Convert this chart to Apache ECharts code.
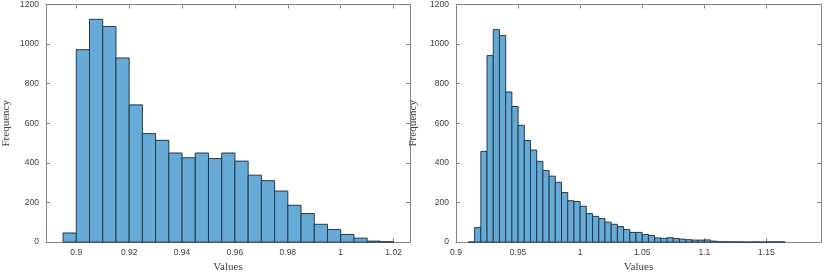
<!DOCTYPE html>
<html>
<head>
<meta charset="utf-8">
<script src="https://cdn.jsdelivr.net/npm/echarts@6/dist/echarts.min.js"></script>
<style>html,body{margin:0;padding:0;background:#fff}#c{width:830px;height:278px}</style>
</head>
<body>
<div id="c"></div>
<script>
// Left histogram: bin left edges and counts (bin width 0.005)
const leftBinStarts = [0.895,0.900,0.905,0.910,0.915,0.920,0.925,0.930,0.935,0.940,0.945,0.950,0.955,0.960,0.965,0.970,0.975,0.980,0.985,0.990,0.995,1.000,1.005,1.010,1.015];
const leftCounts    = [46,972,1125,1089,930,693,548,514,450,426,450,422,450,409,338,310,258,186,144,90,64,39,20,5,2];
const leftBinWidth = 0.005;
const leftXTicks = [0.9,0.92,0.94,0.96,0.98,1,1.02];

// Right histogram
const rightBinStarts = [0.910,0.915,0.920,0.925,0.930,0.935,0.940,0.945,0.950,0.955,0.960,0.965,0.970,0.975,0.980,0.985,0.990,0.995,1.000,1.005,1.010,1.015,1.020,1.025,1.030,1.035,1.040,1.045,1.050,1.055,1.060,1.065,1.070,1.075,1.080,1.085,1.090,1.095,1.100,1.105,1.110,1.115,1.120,1.125,1.130,1.135,1.140,1.145,1.150,1.155,1.160];
const rightCounts    = [1,73,458,942,1073,1043,758,685,590,513,465,408,362,333,302,250,209,205,181,144,130,119,101,90,78,64,49,49,38,34,21,19,22,18,15,12,10,10,11,5,2,1,1,1,0,0,1,0,1,1,1];
const rightBinWidth = 0.005;
const rightXTicks = [0.9,0.95,1,1.05,1.1,1.15];

const yTicks = [0,200,400,600,800,1000,1200];

const axisColor = '#858585';
const labelColor = '#404040';
const fillColor = '#66aad7';
const edgeColor = '#26394a';

function toData(starts, counts, w){
  return starts.map((s,i)=>[s, s + w, counts[i]]);
}

function renderBar(params, api){
  const x0 = api.value(0), x1 = api.value(1), y = api.value(2);
  const p0 = api.coord([x0, y]);
  const p1 = api.coord([x1, 0]);
  return {
    type: 'rect',
    shape: {x: p0[0], y: p0[1], width: p1[0]-p0[0], height: p1[1]-p0[1]},
    style: {fill: fillColor, stroke: edgeColor, lineWidth: 1}
  };
}

const plain = v => String(v);

function xAxes(gi, min, max, ticks){
  const common = {
    type:'value', gridIndex: gi, min, max,
    axisLine:{show:true, onZero:false, lineStyle:{color:axisColor, width:1}},
    axisTick:{show:true, inside:true, length:4, customValues: ticks, lineStyle:{color:axisColor}},
    splitLine:{show:false}
  };
  return [
    Object.assign({}, common, {
      position:'bottom',
      axisLabel:{show:true, customValues: ticks, formatter: plain, color:labelColor, fontSize:8.5, fontFamily:'Liberation Sans', margin:6},
      name:'Values', nameLocation:'middle', nameGap:18,
      nameTextStyle:{fontFamily:'Liberation Serif', fontSize:11, color:labelColor}
    }),
    Object.assign({}, common, {position:'top', axisLabel:{show:false}})
  ];
}

function yAxes(gi, gap){
  const common = {
    type:'value', gridIndex: gi, min:0, max:1200, interval:200,
    axisLine:{show:true, lineStyle:{color:axisColor, width:1}},
    axisTick:{show:true, inside:true, length:4, customValues: yTicks, lineStyle:{color:axisColor}},
    splitLine:{show:false}
  };
  return [
    Object.assign({}, common, {
      position:'left',
      axisLabel:{show:true, customValues: yTicks, formatter: plain, color:labelColor, fontSize:8.5, fontFamily:'Liberation Sans', margin:7},
      name:'Frequency', nameLocation:'middle', nameGap:gap,
      nameTextStyle:{fontFamily:'Liberation Serif', fontSize:11, color:labelColor}
    }),
    Object.assign({}, common, {position:'right', axisLabel:{show:false}})
  ];
}

const chart = echarts.init(document.getElementById('c'), null, {renderer:'canvas'});
chart.setOption({
  animation:false,
  backgroundColor:'#fff',
  grid:[
    {left:41, right:420, top:4, bottom:29},
    {left:456, right:9, top:4, bottom:29}
  ],
  xAxis:[
    ...xAxes(0, 0.88855, 1.0262, leftXTicks),
    ...xAxes(1, 0.9, 1.194, rightXTicks)
  ],
  yAxis:[
    ...yAxes(0, 34),
    ...yAxes(1, 37)
  ],
  series:[
    {type:'custom', xAxisIndex:0, yAxisIndex:0, renderItem:renderBar, data:toData(leftBinStarts,leftCounts,leftBinWidth), encode:{x:[0,1], y:2}},
    {type:'custom', xAxisIndex:2, yAxisIndex:2, renderItem:renderBar, data:toData(rightBinStarts,rightCounts,rightBinWidth), encode:{x:[0,1], y:2}}
  ]
});
</script>
</body>
</html>
